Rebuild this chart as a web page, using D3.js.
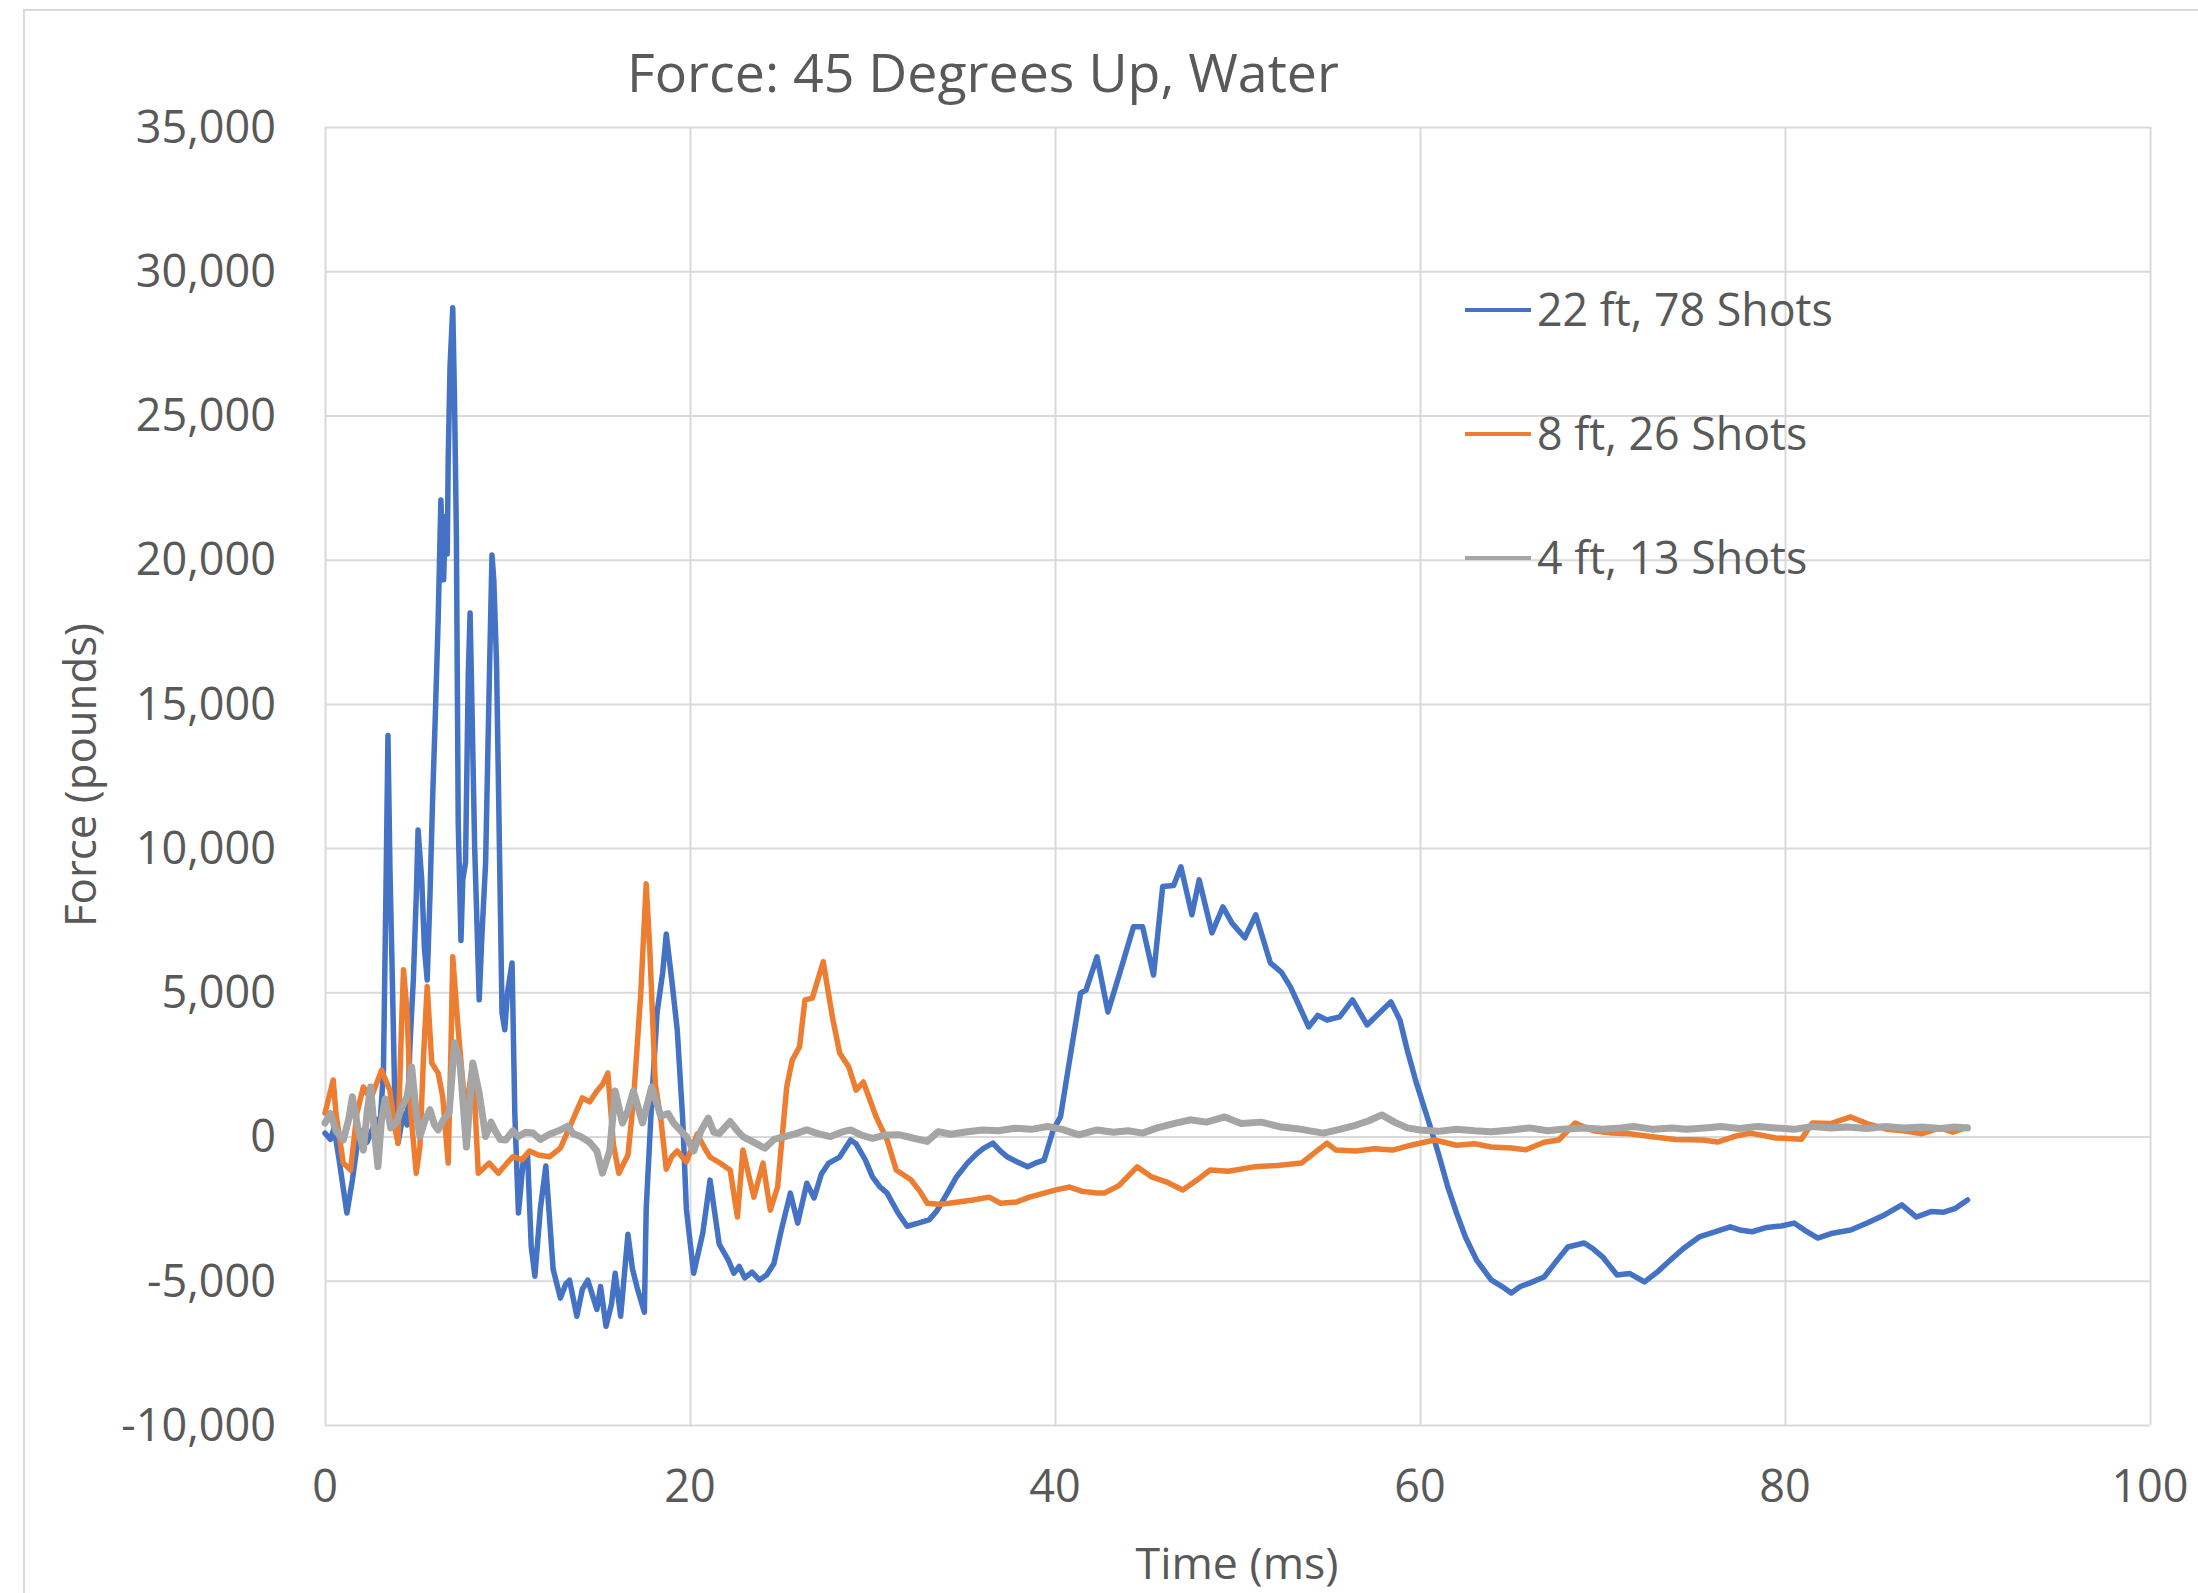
<!DOCTYPE html>
<html>
<head>
<meta charset="utf-8">
<script src="https://cdn.jsdelivr.net/npm/d3@7"></script>
<style>
  html, body { margin: 0; padding: 0; background: #fff; }
  svg { display: block; }
  text { font-family: "Open Sans", "Noto Sans", sans-serif; fill: #595959; }
</style>
</head>
<body>
<svg id="chart" width="2198" height="1593"></svg>
<script>
const chartTitle = "Force: 45 Degrees Up, Water";
const xTitle = "Time (ms)";
const yTitle = "Force (pounds)";
const xTicks = [0, 20, 40, 60, 80, 100];
const yTicks = [-10000, -5000, 0, 5000, 10000, 15000, 20000, 25000, 30000, 35000];
const seriesNames = ["22 ft, 78 Shots", "8 ft, 26 Shots", "4 ft, 13 Shots"];
const seriesColors = ["#4472C4", "#ED7D31", "#A5A5A5"];

// [time (ms), force (pounds)]
const force22ft = [[0,120],[0.3,-100],[0.5,300],[0.8,-920],[1.0,-1800],[1.2,-2650],[1.5,-1510],[1.75,-360],[2.0,200],[2.3,-200],[2.5,100],[2.8,600],[3.0,300],[3.2,2200],[3.35,9000],[3.45,13900],[3.56,9240],[3.66,6360],[3.84,810],[4.0,-230],[4.3,810],[4.5,400],[4.66,3250],[4.84,5430],[5.0,8310],[5.1,10630],[5.3,8900],[5.45,6500],[5.6,5430],[5.75,8310],[5.9,11780],[6.05,14690],[6.2,17900],[6.35,22070],[6.5,19300],[6.6,21500],[6.7,20200],[6.75,23460],[6.85,26690],[7.0,28730],[7.1,25430],[7.2,20790],[7.3,10880],[7.45,6800],[7.55,8900],[7.7,9500],[7.85,16000],[7.95,18150],[8.05,15000],[8.2,10050],[8.45,4740],[8.6,7000],[8.8,9480],[9.0,15720],[9.15,20160],[9.25,19300],[9.4,16400],[9.6,8310],[9.7,4290],[9.85,3700],[10.0,5000],[10.25,6020],[10.4,810],[10.6,-2650],[10.85,-920],[11.1,-640],[11.3,-3820],[11.5,-4840],[11.8,-2510],[12.1,-1020],[12.5,-4600],[12.9,-5600],[13.2,-5100],[13.4,-4980],[13.8,-6230],[14.1,-5300],[14.4,-4980],[14.9,-5990],[15.1,-5200],[15.4,-6580],[15.7,-5800],[15.9,-4740],[16.2,-6230],[16.6,-3390],[16.85,-4600],[17.1,-5230],[17.5,-6090],[17.6,-2510],[17.9,1230],[18.2,4320],[18.5,5670],[18.7,7020],[19.0,5430],[19.3,3700],[19.6,610],[19.8,-2510],[20.2,-4740],[20.7,-3350],[21.1,-1510],[21.6,-3730],[22.1,-4280],[22.4,-4740],[22.7,-4500],[23.0,-4900],[23.4,-4700],[23.8,-4970],[24.2,-4800],[24.6,-4400],[25.0,-3250],[25.5,-1960],[25.9,-3000],[26.4,-1620],[26.8,-2130],[27.2,-1300],[27.6,-920],[28.2,-710],[28.8,-120],[29.1,-250],[29.6,-800],[30.0,-1400],[30.4,-1740],[30.8,-1960],[31.4,-2650],[31.9,-3110],[32.5,-3000],[33.1,-2890],[33.5,-2600],[34.1,-1960],[34.6,-1400],[35.2,-920],[35.7,-600],[36.1,-400],[36.6,-230],[37.0,-500],[37.4,-710],[38.0,-900],[38.5,-1050],[39.0,-900],[39.4,-820],[39.9,230],[40.3,680],[40.8,2650],[41.4,4970],[41.7,5080],[42.3,6230],[42.9,4320],[43.6,5780],[44.3,7270],[44.8,7270],[45.4,5600],[45.9,8670],[46.5,8700],[46.9,9350],[47.5,7690],[47.9,8900],[48.6,7060],[49.2,7960],[49.7,7400],[50.4,6890],[51.0,7690],[51.8,6020],[52.4,5700],[52.9,5190],[53.4,4500],[53.9,3800],[54.4,4200],[54.9,4040],[55.6,4150],[56.3,4740],[57.1,3870],[57.8,4300],[58.4,4670],[58.9,4040],[59.3,3000],[59.8,1860],[60.5,470],[61.0,-570],[61.5,-1700],[62.0,-2650],[62.5,-3500],[63.1,-4280],[63.9,-4970],[64.5,-5200],[65.0,-5420],[65.5,-5200],[66.0,-5080],[66.8,-4870],[67.5,-4300],[68.1,-3830],[69.0,-3690],[69.5,-3900],[70.0,-4170],[70.8,-4800],[71.5,-4750],[72.3,-5040],[73.0,-4700],[73.6,-4350],[74.4,-3900],[75.3,-3480],[76.2,-3300],[77.0,-3130],[77.6,-3250],[78.2,-3300],[79.0,-3150],[79.8,-3100],[80.5,-3000],[81.2,-3300],[81.8,-3520],[82.6,-3350],[83.6,-3240],[84.5,-3000],[85.5,-2700],[86.4,-2370],[87.2,-2790],[88.0,-2600],[88.7,-2620],[89.3,-2500],[90.0,-2200]];

const force8ft = [[0,810],[0.45,1960],[0.6,810],[1.0,-920],[1.4,-1160],[1.75,810],[2.1,1720],[2.5,1300],[2.8,1800],[3.1,2300],[3.55,1610],[3.85,230],[4.0,-230],[4.15,3000],[4.3,5780],[4.5,4290],[4.7,810],[5.0,-1270],[5.2,-360],[5.4,2800],[5.6,5200],[5.85,2550],[6.2,2200],[6.45,1380],[6.75,-920],[6.9,3000],[7.0,6230],[7.3,3700],[7.7,810],[8.1,2550],[8.4,-1270],[9.0,-920],[9.5,-1270],[10.0,-900],[10.3,-700],[10.8,-800],[11.2,-500],[11.7,-640],[12.3,-700],[12.9,-400],[13.6,610],[14.1,1340],[14.5,1200],[14.9,1580],[15.2,1800],[15.5,2200],[15.8,-260],[16.1,-1270],[16.6,-640],[16.9,1230],[17.3,4940],[17.6,8760],[17.8,6440],[18.1,1820],[18.4,610],[18.7,-1130],[19.0,-700],[19.3,-500],[19.8,-880],[20.4,90],[20.8,-400],[21.1,-710],[21.6,-900],[22.2,-1160],[22.6,-2790],[22.9,-470],[23.5,-2100],[24.0,-920],[24.4,-2550],[24.8,-1750],[25.3,1720],[25.6,2650],[26.0,3110],[26.3,4740],[26.7,4800],[27.3,6060],[27.8,4150],[28.2,2900],[28.7,2410],[29.1,1610],[29.5,1890],[30.2,680],[30.8,-120],[31.3,-1160],[32.1,-1500],[32.6,-1900],[33.0,-2310],[33.6,-2350],[34.2,-2310],[34.9,-2250],[35.5,-2200],[36.4,-2100],[37.0,-2310],[37.9,-2270],[38.6,-2100],[39.4,-1960],[40.05,-1850],[40.8,-1750],[41.5,-1900],[42.3,-1960],[42.7,-1960],[43.5,-1700],[44.5,-1050],[45.3,-1400],[46.2,-1600],[47.0,-1850],[47.8,-1500],[48.5,-1160],[49.5,-1200],[50.9,-1050],[52.2,-1000],[53.5,-920],[54.9,-230],[55.4,-470],[56.5,-500],[57.5,-420],[58.5,-470],[59.5,-300],[60.8,-120],[62.0,-300],[63.0,-250],[63.9,-360],[65.0,-400],[65.8,-460],[66.8,-200],[67.6,-120],[68.5,470],[69.5,200],[70.5,120],[71.5,100],[72.6,0],[74.0,-100],[75.5,-120],[76.3,-190],[77.2,0],[78.1,120],[79.5,-50],[80.9,-90],[81.5,470],[82.5,450],[83.6,680],[84.5,450],[85.6,250],[86.5,200],[87.5,100],[88.5,300],[89.2,150],[90.0,330]];

const force4ft = [[0,470],[0.3,800],[0.6,200],[1.0,-120],[1.3,600],[1.5,1380],[1.8,300],[2.1,-470],[2.3,800],[2.5,1720],[2.7,200],[2.9,-1040],[3.1,600],[3.3,1300],[3.6,300],[3.9,470],[4.2,1000],[4.5,1380],[4.75,2410],[5.0,800],[5.2,0],[5.5,600],[5.75,930],[6.0,400],[6.2,230],[6.5,600],[6.8,810],[7.1,3250],[7.4,2550],[7.75,-360],[8.1,2550],[8.45,1500],[8.8,0],[9.1,500],[9.3,230],[9.6,-100],[9.9,-120],[10.3,200],[10.6,0],[11.0,150],[11.4,120],[11.8,-100],[12.3,80],[12.8,200],[13.3,360],[13.6,100],[14.0,0],[14.5,-200],[14.9,-500],[15.2,-1270],[15.6,-500],[15.9,1580],[16.3,470],[16.6,900],[16.9,1580],[17.4,470],[17.9,1720],[18.4,700],[18.8,800],[19.1,470],[19.5,200],[19.8,0],[20.2,-500],[20.6,200],[21.0,640],[21.3,150],[21.6,100],[22.2,520],[22.6,200],[22.9,0],[23.5,-200],[24.1,-400],[24.6,-100],[25.2,0],[25.8,100],[26.4,230],[27.0,100],[27.7,0],[28.3,150],[28.8,230],[29.4,50],[30.0,-60],[30.7,50],[31.5,60],[32.2,-50],[33.0,-170],[33.6,170],[34.3,80],[35.0,150],[36.0,230],[36.9,200],[37.8,290],[38.7,250],[39.6,350],[40.4,250],[41.3,60],[42.3,230],[43.2,150],[44.0,200],[44.8,120],[45.6,300],[46.5,450],[47.4,580],[48.3,500],[49.3,680],[50.2,450],[51.3,500],[52.4,330],[53.5,250],[54.7,120],[55.6,250],[56.5,400],[57.2,550],[57.9,750],[58.6,500],[59.3,300],[60.0,230],[61.0,180],[62.0,250],[63.0,200],[63.9,170],[65.0,230],[66.0,300],[67.0,200],[67.8,250],[69.0,300],[70.0,250],[71.0,300],[71.7,350],[72.8,250],[73.8,300],[74.6,250],[75.6,300],[76.5,350],[77.5,280],[78.5,350],[79.5,300],[80.5,250],[81.5,350],[82.5,300],[83.4,330],[84.5,280],[85.5,350],[86.5,300],[87.5,330],[88.5,280],[89.3,330],[90.0,300]];

const seriesData = [force22ft, force8ft, force4ft];

const svg = d3.select("#chart");
const plot = { left: 325, right: 2150, top: 127, bottom: 1425 };

// chart frame
svg.append("rect").attr("x", 24).attr("y", 10).attr("width", 2300).attr("height", 1700)
  .attr("fill", "#fff").attr("stroke", "#d9d9d9").attr("stroke-width", 2);

const x = d3.scaleLinear().domain([0, 100]).range([plot.left, plot.right]);
const y = d3.scaleLinear().domain([-10000, 35000]).range([plot.bottom, plot.top]);

// gridlines
const gx = svg.append("g").attr("transform", `translate(0,${plot.bottom})`)
  .call(d3.axisBottom(x).tickValues(xTicks).tickSize(-(plot.bottom - plot.top)).tickFormat(""));
const gy = svg.append("g").attr("transform", `translate(${plot.left},0)`)
  .call(d3.axisLeft(y).tickValues(yTicks).tickSize(-(plot.right - plot.left)).tickFormat(""));
[gx, gy].forEach(g => {
  g.select(".domain").remove();
  g.selectAll(".tick line").attr("stroke", "#d9d9d9").attr("stroke-width", 2);
});

// tick labels
const fmt = d => d3.format(",")(d).replace("\u2212", "-");
svg.append("g").selectAll("text").data(yTicks).join("text")
  .attr("x", 276).attr("y", d => y(d)).attr("dy", "0.35em")
  .attr("text-anchor", "end").attr("font-size", 45).text(d => fmt(d));
svg.append("g").selectAll("text").data(xTicks).join("text")
  .attr("x", d => x(d)).attr("y", 1486).attr("dy", "0.35em")
  .attr("text-anchor", "middle").attr("font-size", 45).text(d => d);

// lines
const line = d3.line().x(d => x(d[0])).y(d => y(d[1]));
[0, 1, 2].forEach(i => {
  svg.append("path").datum(seriesData[i]).attr("d", line)
    .attr("fill", "none").attr("stroke", seriesColors[i])
    .attr("stroke-width", i === 2 ? 7 : 5.5)
    .attr("stroke-linejoin", "round").attr("stroke-linecap", "round");
});

// helper to fit text width
function fitText(sel, target) {
  const w = sel.node().getComputedTextLength();
  const fs = parseFloat(sel.attr("font-size"));
  sel.attr("font-size", fs * target / w);
  return fs * target / w;
}

// titles
const t = svg.append("text").attr("x", 983).attr("y", 73).attr("dy", "0.35em")
  .attr("text-anchor", "middle").attr("font-size", 50).text(chartTitle);
fitText(t, 712);

const xt = svg.append("text").attr("x", 1237).attr("y", 1563).attr("dy", "0.35em")
  .attr("text-anchor", "middle").attr("font-size", 45).text(xTitle);
fitText(xt, 203);

const yt = svg.append("text").attr("transform", "translate(81,775) rotate(-90)")
  .attr("dy", "0.35em").attr("text-anchor", "middle").attr("font-size", 45).text(yTitle);
fitText(yt, 304);

// legend
const legY = [310, 434, 558];
const leg = svg.append("g");
let legFont = 45;
seriesNames.forEach((name, i) => {
  leg.append("line").attr("x1", 1465).attr("x2", 1531).attr("y1", legY[i]).attr("y2", legY[i])
    .attr("stroke", seriesColors[i]).attr("stroke-width", 4);
  const tx = leg.append("text").attr("x", 1537).attr("y", legY[i]).attr("dy", "0.35em")
    .attr("font-size", legFont).text(name);
  if (i === 0) legFont = fitText(tx, 296);
  else tx.attr("font-size", legFont);
});
</script>
</body>
</html>
